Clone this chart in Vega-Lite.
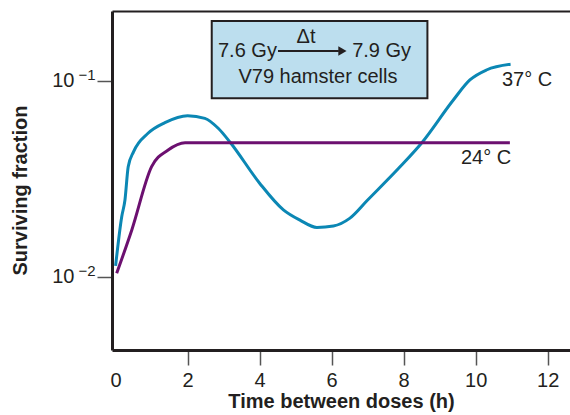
{
  "$schema": "https://vega.github.io/schema/vega-lite/v6.json",
  "autosize": {"type": "none"},
  "padding": {"left": 112, "top": 11, "right": 0, "bottom": 65},
  "width": 458,
  "height": 339,
  "background": "white",
  "config": {
    "view": {"stroke": null},
    "font": "Liberation Sans",
    "text": {"font": "Liberation Sans", "color": "#231f20", "fontSize": 20, "baseline": "middle"}
  },
  "datasets": {
    "warm": [
      {"t": 0.0, "sf": 0.0114},
      {"t": 0.17, "sf": 0.0203},
      {"t": 0.26, "sf": 0.0247},
      {"t": 0.35, "sf": 0.0365},
      {"t": 0.5, "sf": 0.0436},
      {"t": 0.9, "sf": 0.0541},
      {"t": 1.37, "sf": 0.0613},
      {"t": 2.0, "sf": 0.0665},
      {"t": 2.48, "sf": 0.0645},
      {"t": 2.85, "sf": 0.0574},
      {"t": 3.18, "sf": 0.0487},
      {"t": 4.0, "sf": 0.0301},
      {"t": 4.66, "sf": 0.022},
      {"t": 5.12, "sf": 0.0195},
      {"t": 5.59, "sf": 0.0179},
      {"t": 6.05, "sf": 0.0182},
      {"t": 6.5, "sf": 0.0199},
      {"t": 7.0, "sf": 0.0247},
      {"t": 7.9, "sf": 0.0365},
      {"t": 8.5, "sf": 0.0483},
      {"t": 9.38, "sf": 0.08},
      {"t": 9.84, "sf": 0.1012},
      {"t": 10.3, "sf": 0.1138},
      {"t": 10.97, "sf": 0.1217}
    ],
    "cool": [
      {"t": 0.03, "sf": 0.01044},
      {"t": 0.45, "sf": 0.01737},
      {"t": 1.0, "sf": 0.03654},
      {"t": 1.46, "sf": 0.04446},
      {"t": 1.93, "sf": 0.04844},
      {"t": 10.95, "sf": 0.04844}
    ],
    "curveLabels": [
      {"t": 10.73, "sf": 0.1012, "label": "37° C"},
      {"t": 9.59, "sf": 0.0405, "label": "24° C"}
    ],
    "box": [
      {"t": 2.67, "t2": 8.66, "sf": 0.0816, "sf2": 0.2023}
    ],
    "arrow": [
      {"t": 4.51, "t2": 6.2, "sf": 0.1422}
    ],
    "head": [
      {"t": 6.3, "sf": 0.1422}
    ],
    "doseBefore": [{"t": 4.48, "sf": 0.1422, "label": "7.6 Gy"}],
    "doseAfter": [{"t": 6.57, "sf": 0.1422, "label": "7.9 Gy"}],
    "boxCentered": [
      {"t": 5.29, "sf": 0.1677, "label": "Δt"},
      {"t": 5.62, "sf": 0.1048, "label": "V79 hamster cells"}
    ]
  },
  "encoding": {
    "y": {
      "field": "sf",
      "type": "quantitative",
      "scale": {"type": "log", "domain": [0.00424, 0.2276], "nice": false},
      "axis": null
    }
  },
  "layer": [
    {
      "data": {"name": "box"},
      "mark": {"type": "rect", "fill": "#bcdeee", "stroke": "#231f20", "strokeWidth": 2},
      "encoding": {
        "x": {"field": "t", "type": "quantitative", "axis": null},
        "x2": {"field": "t2"},
        "y2": {"field": "sf2"}
      }
    },
    {
      "data": {"name": "warm"},
      "mark": {"type": "line", "color": "#0b87b4", "strokeWidth": 3, "interpolate": "monotone"},
      "encoding": {
        "x": {
          "field": "t",
          "type": "quantitative",
          "scale": {"domain": [-0.1, 12.62], "nice": false, "zero": false},
          "axis": {
            "orient": "bottom",
            "values": [0, 2, 4, 6, 8, 10, 12],
            "labelFont": "Liberation Sans",
            "labelFontSize": 20,
            "labelColor": "#231f20",
            "labelPadding": 5,
            "tickSize": 15,
            "tickWidth": 1.5,
            "tickColor": "#555",
            "tickOpacity": {"condition": {"test": "datum.value == 0", "value": 0}, "value": 1},
            "domainColor": "#231f20",
            "domainWidth": 3,
            "grid": false,
            "title": "Time between doses (h)",
            "titleFont": "Liberation Sans",
            "titleFontSize": 20,
            "titleFontWeight": "bold",
            "titleColor": "#231f20",
            "titlePadding": 1
          }
        },
        "y": {
          "field": "sf",
          "type": "quantitative",
          "scale": {"type": "log", "domain": [0.00424, 0.2276], "nice": false},
          "axis": {
            "orient": "left",
            "values": [0.01, 0.1],
            "labelExpr": "datum.value > 0.05 ? '−1' : '−2'",
            "labelFont": "Liberation Sans",
            "labelFontSize": 15,
            "labelOffset": -6,
            "labelColor": "#231f20",
            "labelPadding": 2,
            "tickSize": 15,
            "tickWidth": 1.5,
            "tickColor": "#555",
            "domainColor": "#231f20",
            "domainWidth": 3,
            "grid": false,
            "title": null
          }
        }
      }
    },
    {
      "data": {"name": "cool"},
      "mark": {"type": "line", "color": "#6c1070", "strokeWidth": 3, "interpolate": "monotone"},
      "encoding": {
        "x": {
          "field": "t",
          "type": "quantitative",
          "axis": {
            "orient": "top",
            "labels": false,
            "ticks": false,
            "title": null,
            "grid": false,
            "domainColor": "#231f20",
            "domainWidth": 2
          }
        },
        "y": {
          "field": "sf",
          "type": "quantitative",
          "scale": {"type": "log", "domain": [0.00424, 0.2276], "nice": false},
          "axis": {
            "orient": "left",
            "offset": 38,
            "values": [0.01, 0.1],
            "labelExpr": "'10'",
            "labelFont": "Liberation Sans",
            "labelFontSize": 20,
            "labelColor": "#231f20",
            "labelPadding": 0,
            "ticks": false,
            "domain": false,
            "grid": false,
            "title": "Surviving fraction",
            "titleFont": "Liberation Sans",
            "titleFontSize": 20,
            "titleFontWeight": "bold",
            "titleColor": "#231f20",
            "titlePadding": 21,
            "titleY": 179
          }
        }
      }
    },
    {
      "data": {"name": "curveLabels"},
      "mark": {"type": "text", "align": "left"},
      "encoding": {
        "x": {"field": "t", "type": "quantitative", "axis": null},
        "text": {"field": "label"}
      }
    },
    {
      "data": {"name": "arrow"},
      "mark": {"type": "rule", "color": "#231f20", "strokeWidth": 2},
      "encoding": {
        "x": {"field": "t", "type": "quantitative", "axis": null},
        "x2": {"field": "t2"}
      }
    },
    {
      "data": {"name": "head"},
      "mark": {"type": "point", "shape": "triangle-right", "filled": true, "color": "#231f20", "size": 90, "opacity": 1},
      "encoding": {
        "x": {"field": "t", "type": "quantitative", "axis": null}
      }
    },
    {
      "data": {"name": "doseBefore"},
      "mark": {"type": "text", "align": "right"},
      "encoding": {
        "x": {"field": "t", "type": "quantitative", "axis": null},
        "text": {"field": "label"}
      }
    },
    {
      "data": {"name": "doseAfter"},
      "mark": {"type": "text", "align": "left"},
      "encoding": {
        "x": {"field": "t", "type": "quantitative", "axis": null},
        "text": {"field": "label"}
      }
    },
    {
      "data": {"name": "boxCentered"},
      "mark": {"type": "text", "align": "center"},
      "encoding": {
        "x": {"field": "t", "type": "quantitative", "axis": null},
        "text": {"field": "label"}
      }
    }
  ],
  "resolve": {"axis": {"x": "independent", "y": "independent"}}
}
